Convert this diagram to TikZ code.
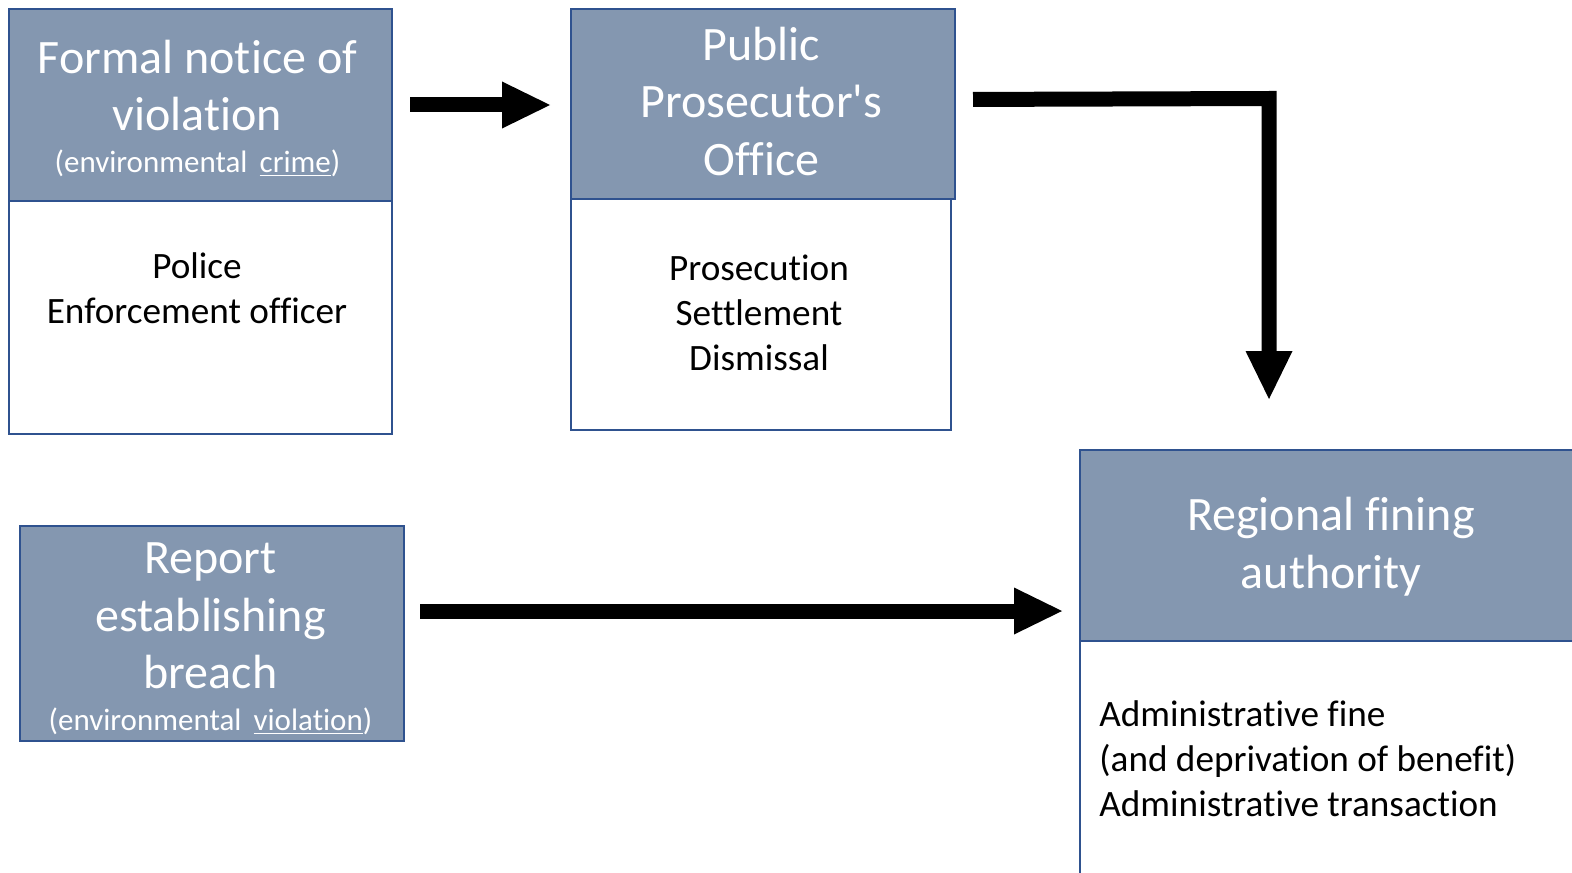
\documentclass[tikz,border=0pt]{standalone}
\usepackage{fontspec}
\setmainfont{Carlito}[Ligatures={TeX,NoCommon}]
\newfontfamily\nomapfont{Carlito}[Ligatures=NoCommon]
\usetikzlibrary{arrows.meta}
\definecolor{hdr}{HTML}{8497B0}
\definecolor{bdr}{HTML}{2F528F}
\newcommand{\smallfont}{\fontsize{15.5}{19}\selectfont}
\tikzset{
  hdrbox/.style={draw=bdr, line width=1pt, fill=hdr, inner sep=0pt, anchor=north west},
  hdrtext/.style={text=white, inner sep=0pt, align=center, anchor=base,
    font=\fontsize{24}{28.75}\selectfont},
  bodybox/.style={draw=bdr, line width=1pt, fill=white, inner sep=0pt, anchor=north west},
  bodytext/.style={font=\fontsize{18.6}{22.5}\selectfont, inner sep=0pt},
  bigarrow/.style={line width=7.5pt, line join=miter,
    -{Triangle[length=24pt,width=23.5pt,line width=0pt]}},
}
\begin{document}
\begin{tikzpicture}[x=0.5pt,y=-0.5pt]
\useasboundingbox (0,0) rectangle (1572,872);
\clip (0,0) rectangle (1572,872);
% box 1
\node[bodybox, minimum width=191.5pt, minimum height=116.5pt] (b1) at (8,200) {};
\node[hdrbox, minimum width=191.5pt, minimum height=96pt] (h1) at (8,8) {};
\node[hdrtext] (ht1) at (197.5,172)
  {Formal notice of\\violation\\[-8pt]{\smallfont(environmental\, \underline{crime})}};
\node[bodytext, align=center, anchor=base] (t1) at (197,323) {Police\\Enforcement officer};
% box 2
\node[bodybox, minimum width=190pt, minimum height=115.5pt] (b2) at (570,198) {};
\node[hdrbox, minimum width=192pt, minimum height=95pt] (h2) at (570,8) {};
\node[hdrtext] (ht2) at (761.5,175) {Public\\Prosecutor{\nomapfont'}s\\Office};
\node[bodytext, align=center, anchor=base] (t2) at (759,370) {Prosecution\\Settlement\\Dismissal};
% box 3
\node[hdrbox, minimum width=192pt, minimum height=107.5pt] (h3) at (19,525) {};
\node[hdrtext] (ht3) at (210.5,730)
  {Report\\establishing\\breach\\[-8pt]{\smallfont(environmental\, \underline{violation})}};
% box 4
\node[bodybox, minimum width=260pt, minimum height=150pt] (b4) at (1079,640) {};
\node[hdrbox, minimum width=260pt, minimum height=95.5pt] (h4) at (1079,449) {};
\node[hdrtext] (ht4) at (1331,588) {Regional fining\\authority};
\node[bodytext, align=left, anchor=base west] (t4) at (1099,816)
  {Administrative fine\\(and deprivation of benefit)\\Administrative transaction};
% arrows
\draw[bigarrow, shorten <=8.5pt, shorten >=10pt] (h1.east) -- (h1.east -| h2.west);
\coordinate (c2) at ([yshift=2.25pt]h2.east);
\coordinate (turn) at (1269,98.5);
\draw[bigarrow, shorten <=8.5pt, shorten >=25pt] (c2) -- (turn) -- (turn |- h4.north);
\coordinate (a3) at ([yshift=11.25pt]h3.east);
\draw[bigarrow, shorten <=7.5pt, shorten >=8.5pt] (a3) -- (a3 -| h4.west);
\end{tikzpicture}
\end{document}
